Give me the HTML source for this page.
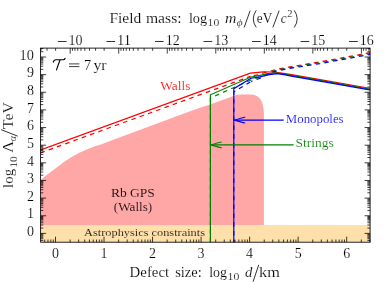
<!DOCTYPE html>
<html><head><meta charset="utf-8"><title>plot</title>
<style>
html,body{margin:0;padding:0;background:#fff;}
body{width:390px;height:282px;overflow:hidden;font-family:"Liberation Serif",serif;}
svg{display:block;}
text{font-family:"Liberation Serif",serif;}
</style></head><body>
<svg width="390" height="282" viewBox="0 0 390 282" style="will-change:transform">
<rect x="0" y="0" width="390" height="282" fill="#ffffff"/>
<defs><clipPath id="clip"><rect x="40.6" y="48.1" width="329.5" height="194.1"/></clipPath></defs>
<g clip-path="url(#clip)">
<path d="M40.6,242.2 L40.6,179.6 L41,179.6 L48,174 L56,167.9 L63.9,162 L71.9,156.8 L79.9,152.4 L87.9,149.1 L95.8,146.1 L100,144.7 L110,140.9 L190,111.3 L215,102.8 L226,98.7 C232,96.4 236,94.4 242,94.4 L250.5,94.4 C259.3,94.4 263.9,101 263.9,114 L263.9,242.2 Z" fill="#ffa6a6"/>
<rect x="40.6" y="225.0" width="329.5" height="17.20" fill="#ffdfaa"/>
<path d="M40,150.15 L250.3,73.1 L263.5,71.9 L272,72.0 L280,72.9 L290,74.4 L320,79.6 L371,88.5" fill="none" stroke="#ff0000" stroke-width="1.2" stroke-linejoin="miter"/>
<path d="M40,153.05 L250.5,76.4" fill="none" stroke="#ff0000" stroke-width="1.2" stroke-linejoin="miter" stroke-dasharray="4.5 4.3" stroke-dashoffset="8.34"/>
<path d="M371,52.5 L320,61.9 L291.3,66.6 L283.3,68.1 L274,70.0 L257.5,74.8 L250.5,76.4" fill="none" stroke="#ff0000" stroke-width="1.2" stroke-linejoin="miter" stroke-dasharray="4.5 4.3" stroke-dashoffset="8.0"/>
<path d="M210.4,243.6 L210.4,94.8 L251,77.0 L260,75.4 L268,73.6 L276,72.9 L283,73.8 L290,75.2 L320,80.4 L371,89.3" fill="none" stroke="#007f00" stroke-width="1.2" stroke-linejoin="miter"/>
<path d="M371,53.4 L320,62.7 L291.3,67.3 L283.3,68.8 L274,70.8 L266,74.2 L260,77.0 L251,80.0 L210.4,98.0 L210.4,243.6" fill="none" stroke="#007f00" stroke-width="1.2" stroke-linejoin="miter" stroke-dasharray="4.5 4.3" stroke-dashoffset="9.0"/>
<path d="M233.8,243.6 L233.8,88.7 L251,78.2 L260,76.8 L268,74.8 L277,73.7 L284,74.6 L290,75.9 L320,81.2 L371,90.2" fill="none" stroke="#0000ff" stroke-width="1.2" stroke-linejoin="miter"/>
<path d="M371,54.3 L320,63.6 L291.3,68.1 L283.3,69.6 L274,71.6 L266,75.2 L260,78.3 L251,81.5" fill="none" stroke="#0000ff" stroke-width="1.2" stroke-linejoin="miter" stroke-dasharray="4.5 4.3" stroke-dashoffset="10.0"/>
<path d="M251,81.5 L233.8,91.9 L233.8,243.6" fill="none" stroke="#0000ff" stroke-width="1.2" stroke-linejoin="miter" stroke-dasharray="4.5 4.3" stroke-dashoffset="7.98"/>
</g>
<path d="M293.6,144.9 L211.5,144.9" stroke="#007f00" stroke-width="1.15" fill="none"/>
<path d="M221.29999999999998,142.0 C218.2,142.6 214.2,143.9 211.2,144.9 C214.2,145.9 218.2,147.20000000000002 221.29999999999998,147.8" stroke="#007f00" stroke-width="1.15" fill="none" stroke-linecap="round" stroke-linejoin="round"/>
<path d="M283.7,120.1 L235.0,120.1" stroke="#0000ff" stroke-width="1.15" fill="none"/>
<path d="M244.79999999999998,117.19999999999999 C241.7,117.8 237.7,119.1 234.7,120.1 C237.7,121.1 241.7,122.39999999999999 244.79999999999998,123.0" stroke="#0000ff" stroke-width="1.15" fill="none" stroke-linecap="round" stroke-linejoin="round"/>
<rect x="40.6" y="48.1" width="329.5" height="194.1" fill="none" stroke="#000" stroke-width="0.85"/>
<path d="M44.73,242.2 V239.50 M47.98,242.2 V239.50 M50.80,242.2 V239.50 M53.28,242.2 V239.50 M55.50,242.2 V236.70 M70.11,242.2 V239.50 M78.65,242.2 V239.50 M84.72,242.2 V239.50 M89.42,242.2 V239.50 M93.26,242.2 V239.50 M96.51,242.2 V239.50 M99.33,242.2 V239.50 M101.81,242.2 V239.50 M104.03,242.2 V236.70 M118.64,242.2 V239.50 M127.18,242.2 V239.50 M133.25,242.2 V239.50 M137.95,242.2 V239.50 M141.79,242.2 V239.50 M145.04,242.2 V239.50 M147.86,242.2 V239.50 M150.34,242.2 V239.50 M152.56,242.2 V236.70 M167.17,242.2 V239.50 M175.71,242.2 V239.50 M181.78,242.2 V239.50 M186.48,242.2 V239.50 M190.32,242.2 V239.50 M193.57,242.2 V239.50 M196.39,242.2 V239.50 M198.87,242.2 V239.50 M201.09,242.2 V236.70 M215.70,242.2 V239.50 M224.24,242.2 V239.50 M230.31,242.2 V239.50 M235.01,242.2 V239.50 M238.85,242.2 V239.50 M242.10,242.2 V239.50 M244.92,242.2 V239.50 M247.40,242.2 V239.50 M249.62,242.2 V236.70 M264.23,242.2 V239.50 M272.77,242.2 V239.50 M278.84,242.2 V239.50 M283.54,242.2 V239.50 M287.38,242.2 V239.50 M290.63,242.2 V239.50 M293.45,242.2 V239.50 M295.93,242.2 V239.50 M298.15,242.2 V236.70 M312.76,242.2 V239.50 M321.30,242.2 V239.50 M327.37,242.2 V239.50 M332.07,242.2 V239.50 M335.91,242.2 V239.50 M339.16,242.2 V239.50 M341.98,242.2 V239.50 M344.46,242.2 V239.50 M346.68,242.2 V236.70 M361.29,242.2 V239.50 M369.83,242.2 V239.50 M368.90,48.1 V50.80 M366.09,48.1 V50.80 M363.61,48.1 V50.80 M361.38,48.1 V53.60 M346.78,48.1 V50.80 M338.23,48.1 V50.80 M332.17,48.1 V50.80 M327.46,48.1 V50.80 M323.62,48.1 V50.80 M320.37,48.1 V50.80 M317.56,48.1 V50.80 M315.08,48.1 V50.80 M312.85,48.1 V53.60 M298.25,48.1 V50.80 M289.70,48.1 V50.80 M283.64,48.1 V50.80 M278.93,48.1 V50.80 M275.09,48.1 V50.80 M271.84,48.1 V50.80 M269.03,48.1 V50.80 M266.55,48.1 V50.80 M264.32,48.1 V53.60 M249.72,48.1 V50.80 M241.17,48.1 V50.80 M235.11,48.1 V50.80 M230.40,48.1 V50.80 M226.56,48.1 V50.80 M223.31,48.1 V50.80 M220.50,48.1 V50.80 M218.02,48.1 V50.80 M215.79,48.1 V53.60 M201.19,48.1 V50.80 M192.64,48.1 V50.80 M186.58,48.1 V50.80 M181.87,48.1 V50.80 M178.03,48.1 V50.80 M174.78,48.1 V50.80 M171.97,48.1 V50.80 M169.49,48.1 V50.80 M167.26,48.1 V53.60 M152.66,48.1 V50.80 M144.11,48.1 V50.80 M138.05,48.1 V50.80 M133.34,48.1 V50.80 M129.50,48.1 V50.80 M126.25,48.1 V50.80 M123.44,48.1 V50.80 M120.96,48.1 V50.80 M118.73,48.1 V53.60 M104.13,48.1 V50.80 M95.58,48.1 V50.80 M89.52,48.1 V50.80 M84.81,48.1 V50.80 M80.97,48.1 V50.80 M77.72,48.1 V50.80 M74.91,48.1 V50.80 M72.43,48.1 V50.80 M70.20,48.1 V53.60 M55.60,48.1 V50.80 M47.05,48.1 V50.80 M40.99,48.1 V50.80 M40.6,240.42 H43.30 M370.1,240.42 H367.40 M40.6,238.71 H43.30 M370.1,238.71 H367.40 M40.6,237.31 H43.30 M370.1,237.31 H367.40 M40.6,236.13 H43.30 M370.1,236.13 H367.40 M40.6,235.11 H43.30 M370.1,235.11 H367.40 M40.6,234.21 H43.30 M370.1,234.21 H367.40 M40.6,233.40 H46.10 M370.1,233.40 H364.60 M40.6,228.09 H43.30 M370.1,228.09 H367.40 M40.6,224.98 H43.30 M370.1,224.98 H367.40 M40.6,222.78 H43.30 M370.1,222.78 H367.40 M40.6,221.07 H43.30 M370.1,221.07 H367.40 M40.6,219.67 H43.30 M370.1,219.67 H367.40 M40.6,218.49 H43.30 M370.1,218.49 H367.40 M40.6,217.47 H43.30 M370.1,217.47 H367.40 M40.6,216.57 H43.30 M370.1,216.57 H367.40 M40.6,215.76 H46.10 M370.1,215.76 H364.60 M40.6,210.45 H43.30 M370.1,210.45 H367.40 M40.6,207.34 H43.30 M370.1,207.34 H367.40 M40.6,205.14 H43.30 M370.1,205.14 H367.40 M40.6,203.43 H43.30 M370.1,203.43 H367.40 M40.6,202.03 H43.30 M370.1,202.03 H367.40 M40.6,200.85 H43.30 M370.1,200.85 H367.40 M40.6,199.83 H43.30 M370.1,199.83 H367.40 M40.6,198.93 H43.30 M370.1,198.93 H367.40 M40.6,198.12 H46.10 M370.1,198.12 H364.60 M40.6,192.81 H43.30 M370.1,192.81 H367.40 M40.6,189.70 H43.30 M370.1,189.70 H367.40 M40.6,187.50 H43.30 M370.1,187.50 H367.40 M40.6,185.79 H43.30 M370.1,185.79 H367.40 M40.6,184.39 H43.30 M370.1,184.39 H367.40 M40.6,183.21 H43.30 M370.1,183.21 H367.40 M40.6,182.19 H43.30 M370.1,182.19 H367.40 M40.6,181.29 H43.30 M370.1,181.29 H367.40 M40.6,180.48 H46.10 M370.1,180.48 H364.60 M40.6,175.17 H43.30 M370.1,175.17 H367.40 M40.6,172.06 H43.30 M370.1,172.06 H367.40 M40.6,169.86 H43.30 M370.1,169.86 H367.40 M40.6,168.15 H43.30 M370.1,168.15 H367.40 M40.6,166.75 H43.30 M370.1,166.75 H367.40 M40.6,165.57 H43.30 M370.1,165.57 H367.40 M40.6,164.55 H43.30 M370.1,164.55 H367.40 M40.6,163.65 H43.30 M370.1,163.65 H367.40 M40.6,162.84 H46.10 M370.1,162.84 H364.60 M40.6,157.53 H43.30 M370.1,157.53 H367.40 M40.6,154.42 H43.30 M370.1,154.42 H367.40 M40.6,152.22 H43.30 M370.1,152.22 H367.40 M40.6,150.51 H43.30 M370.1,150.51 H367.40 M40.6,149.11 H43.30 M370.1,149.11 H367.40 M40.6,147.93 H43.30 M370.1,147.93 H367.40 M40.6,146.91 H43.30 M370.1,146.91 H367.40 M40.6,146.01 H43.30 M370.1,146.01 H367.40 M40.6,145.20 H46.10 M370.1,145.20 H364.60 M40.6,139.89 H43.30 M370.1,139.89 H367.40 M40.6,136.78 H43.30 M370.1,136.78 H367.40 M40.6,134.58 H43.30 M370.1,134.58 H367.40 M40.6,132.87 H43.30 M370.1,132.87 H367.40 M40.6,131.47 H43.30 M370.1,131.47 H367.40 M40.6,130.29 H43.30 M370.1,130.29 H367.40 M40.6,129.27 H43.30 M370.1,129.27 H367.40 M40.6,128.37 H43.30 M370.1,128.37 H367.40 M40.6,127.56 H46.10 M370.1,127.56 H364.60 M40.6,122.25 H43.30 M370.1,122.25 H367.40 M40.6,119.14 H43.30 M370.1,119.14 H367.40 M40.6,116.94 H43.30 M370.1,116.94 H367.40 M40.6,115.23 H43.30 M370.1,115.23 H367.40 M40.6,113.83 H43.30 M370.1,113.83 H367.40 M40.6,112.65 H43.30 M370.1,112.65 H367.40 M40.6,111.63 H43.30 M370.1,111.63 H367.40 M40.6,110.73 H43.30 M370.1,110.73 H367.40 M40.6,109.92 H46.10 M370.1,109.92 H364.60 M40.6,104.61 H43.30 M370.1,104.61 H367.40 M40.6,101.50 H43.30 M370.1,101.50 H367.40 M40.6,99.30 H43.30 M370.1,99.30 H367.40 M40.6,97.59 H43.30 M370.1,97.59 H367.40 M40.6,96.19 H43.30 M370.1,96.19 H367.40 M40.6,95.01 H43.30 M370.1,95.01 H367.40 M40.6,93.99 H43.30 M370.1,93.99 H367.40 M40.6,93.09 H43.30 M370.1,93.09 H367.40 M40.6,92.28 H46.10 M370.1,92.28 H364.60 M40.6,86.97 H43.30 M370.1,86.97 H367.40 M40.6,83.86 H43.30 M370.1,83.86 H367.40 M40.6,81.66 H43.30 M370.1,81.66 H367.40 M40.6,79.95 H43.30 M370.1,79.95 H367.40 M40.6,78.55 H43.30 M370.1,78.55 H367.40 M40.6,77.37 H43.30 M370.1,77.37 H367.40 M40.6,76.35 H43.30 M370.1,76.35 H367.40 M40.6,75.45 H43.30 M370.1,75.45 H367.40 M40.6,74.64 H46.10 M370.1,74.64 H364.60 M40.6,69.33 H43.30 M370.1,69.33 H367.40 M40.6,66.22 H43.30 M370.1,66.22 H367.40 M40.6,64.02 H43.30 M370.1,64.02 H367.40 M40.6,62.31 H43.30 M370.1,62.31 H367.40 M40.6,60.91 H43.30 M370.1,60.91 H367.40 M40.6,59.73 H43.30 M370.1,59.73 H367.40 M40.6,58.71 H43.30 M370.1,58.71 H367.40 M40.6,57.81 H43.30 M370.1,57.81 H367.40 M40.6,57.00 H46.10 M370.1,57.00 H364.60 M40.6,51.69 H43.30 M370.1,51.69 H367.40 M40.6,48.58 H43.30 M370.1,48.58 H367.40" stroke="#000" stroke-width="0.75" fill="none"/>
<text x="26.900000000000002" y="236.10" font-size="13.8" fill="#000" textLength="7.0" lengthAdjust="spacingAndGlyphs" stroke="#fff" stroke-width="0.16">0</text>
<text x="26.900000000000002" y="218.46" font-size="13.8" fill="#000" textLength="7.0" lengthAdjust="spacingAndGlyphs" stroke="#fff" stroke-width="0.16">1</text>
<text x="26.900000000000002" y="200.82" font-size="13.8" fill="#000" textLength="7.0" lengthAdjust="spacingAndGlyphs" stroke="#fff" stroke-width="0.16">2</text>
<text x="26.900000000000002" y="183.18" font-size="13.8" fill="#000" textLength="7.0" lengthAdjust="spacingAndGlyphs" stroke="#fff" stroke-width="0.16">3</text>
<text x="26.900000000000002" y="165.54" font-size="13.8" fill="#000" textLength="7.0" lengthAdjust="spacingAndGlyphs" stroke="#fff" stroke-width="0.16">4</text>
<text x="26.900000000000002" y="147.90" font-size="13.8" fill="#000" textLength="7.0" lengthAdjust="spacingAndGlyphs" stroke="#fff" stroke-width="0.16">5</text>
<text x="26.900000000000002" y="130.26" font-size="13.8" fill="#000" textLength="7.0" lengthAdjust="spacingAndGlyphs" stroke="#fff" stroke-width="0.16">6</text>
<text x="26.900000000000002" y="112.62" font-size="13.8" fill="#000" textLength="7.0" lengthAdjust="spacingAndGlyphs" stroke="#fff" stroke-width="0.16">7</text>
<text x="26.900000000000002" y="94.98" font-size="13.8" fill="#000" textLength="7.0" lengthAdjust="spacingAndGlyphs" stroke="#fff" stroke-width="0.16">8</text>
<text x="26.900000000000002" y="77.34" font-size="13.8" fill="#000" textLength="7.0" lengthAdjust="spacingAndGlyphs" stroke="#fff" stroke-width="0.16">9</text>
<text x="19.6" y="59.70" font-size="13.8" fill="#000" textLength="14.299999999999999" lengthAdjust="spacingAndGlyphs" stroke="#fff" stroke-width="0.16">10</text>
<text x="52.00" y="257.6" font-size="13.8" fill="#000" textLength="7.0" lengthAdjust="spacingAndGlyphs" stroke="#fff" stroke-width="0.16">0</text>
<text x="100.53" y="257.6" font-size="13.8" fill="#000" textLength="7.0" lengthAdjust="spacingAndGlyphs" stroke="#fff" stroke-width="0.16">1</text>
<text x="149.06" y="257.6" font-size="13.8" fill="#000" textLength="7.0" lengthAdjust="spacingAndGlyphs" stroke="#fff" stroke-width="0.16">2</text>
<text x="197.59" y="257.6" font-size="13.8" fill="#000" textLength="7.0" lengthAdjust="spacingAndGlyphs" stroke="#fff" stroke-width="0.16">3</text>
<text x="246.12" y="257.6" font-size="13.8" fill="#000" textLength="7.0" lengthAdjust="spacingAndGlyphs" stroke="#fff" stroke-width="0.16">4</text>
<text x="294.65" y="257.6" font-size="13.8" fill="#000" textLength="7.0" lengthAdjust="spacingAndGlyphs" stroke="#fff" stroke-width="0.16">5</text>
<text x="343.18" y="257.6" font-size="13.8" fill="#000" textLength="7.0" lengthAdjust="spacingAndGlyphs" stroke="#fff" stroke-width="0.16">6</text>
<path d="M57.90,41.5 H66.60" stroke="#000" stroke-width="0.8"/>
<text x="68.60" y="45.2" font-size="13.8" fill="#000" textLength="14.0" lengthAdjust="spacingAndGlyphs" stroke="#fff" stroke-width="0.16">10</text>
<path d="M106.43,41.5 H115.13" stroke="#000" stroke-width="0.8"/>
<text x="117.13" y="45.2" font-size="13.8" fill="#000" textLength="14.0" lengthAdjust="spacingAndGlyphs" stroke="#fff" stroke-width="0.16">11</text>
<path d="M154.96,41.5 H163.66" stroke="#000" stroke-width="0.8"/>
<text x="165.66" y="45.2" font-size="13.8" fill="#000" textLength="14.0" lengthAdjust="spacingAndGlyphs" stroke="#fff" stroke-width="0.16">12</text>
<path d="M203.49,41.5 H212.19" stroke="#000" stroke-width="0.8"/>
<text x="214.19" y="45.2" font-size="13.8" fill="#000" textLength="14.0" lengthAdjust="spacingAndGlyphs" stroke="#fff" stroke-width="0.16">13</text>
<path d="M252.02,41.5 H260.72" stroke="#000" stroke-width="0.8"/>
<text x="262.72" y="45.2" font-size="13.8" fill="#000" textLength="14.0" lengthAdjust="spacingAndGlyphs" stroke="#fff" stroke-width="0.16">14</text>
<path d="M300.55,41.5 H309.25" stroke="#000" stroke-width="0.8"/>
<text x="311.25" y="45.2" font-size="13.8" fill="#000" textLength="14.0" lengthAdjust="spacingAndGlyphs" stroke="#fff" stroke-width="0.16">15</text>
<path d="M349.08,41.5 H357.78" stroke="#000" stroke-width="0.8"/>
<text x="359.78" y="45.2" font-size="13.8" fill="#000" textLength="14.0" lengthAdjust="spacingAndGlyphs" stroke="#fff" stroke-width="0.16">16</text>
<text x="109.4" y="22.6" font-size="14.6" fill="#000" textLength="31.9" lengthAdjust="spacingAndGlyphs" stroke="#fff" stroke-width="0.16">Field</text>
<text x="145.9" y="22.6" font-size="14.6" fill="#000" textLength="35.7" lengthAdjust="spacingAndGlyphs" stroke="#fff" stroke-width="0.16">mass:</text>
<text x="188.9" y="22.6" font-size="14.6" fill="#000" textLength="18.3" lengthAdjust="spacingAndGlyphs" stroke="#fff" stroke-width="0.16">log</text>
<text x="207.6" y="26.0" font-size="10.2" fill="#000" textLength="11.6" lengthAdjust="spacingAndGlyphs" stroke="#fff" stroke-width="0.16">10</text>
<text x="225.0" y="22.6" font-size="14.6" fill="#000" textLength="11.4" lengthAdjust="spacingAndGlyphs" font-style="italic" stroke="#fff" stroke-width="0.16">m</text>
<text x="236.7" y="25.6" font-size="10.4" fill="#000" textLength="5.8" lengthAdjust="spacingAndGlyphs" font-style="italic" stroke="#fff" stroke-width="0.16">ϕ</text>
<path d="M244.3,27.1 L250.0,11.0 M273.0,27.1 L279.0,11.0" stroke="#000" stroke-width="0.8" fill="none" stroke-linecap="round"/>
<path d="M256.0,10.7 Q250.4,18.9 256.0,27.1 M294.5,10.7 Q300.1,18.9 294.5,27.1" stroke="#000" stroke-width="0.8" fill="none" stroke-linecap="round"/>
<text x="256.8" y="22.6" font-size="14.6" fill="#000" textLength="15.5" lengthAdjust="spacingAndGlyphs" stroke="#fff" stroke-width="0.16">eV</text>
<text x="280.8" y="22.6" font-size="14.6" fill="#000" textLength="5.8" lengthAdjust="spacingAndGlyphs" font-style="italic" stroke="#fff" stroke-width="0.16">c</text>
<text x="287.2" y="17.4" font-size="10.2" fill="#000" textLength="5.2" lengthAdjust="spacingAndGlyphs" stroke="#fff" stroke-width="0.16">2</text>
<text x="129.6" y="277.0" font-size="14.6" fill="#000" textLength="39.5" lengthAdjust="spacingAndGlyphs" stroke="#fff" stroke-width="0.16">Defect</text>
<text x="175.2" y="277.0" font-size="14.6" fill="#000" textLength="26.6" lengthAdjust="spacingAndGlyphs" stroke="#fff" stroke-width="0.16">size:</text>
<text x="209.2" y="277.0" font-size="14.6" fill="#000" textLength="17.8" lengthAdjust="spacingAndGlyphs" stroke="#fff" stroke-width="0.16">log</text>
<text x="227.6" y="280.3" font-size="10.2" fill="#000" textLength="11.8" lengthAdjust="spacingAndGlyphs" stroke="#fff" stroke-width="0.16">10</text>
<text x="244.9" y="277.0" font-size="14.6" fill="#000" textLength="7.4" lengthAdjust="spacingAndGlyphs" font-style="italic" stroke="#fff" stroke-width="0.16">d</text>
<path d="M253.2,281.3 L258.6,265.2" stroke="#000" stroke-width="0.8" fill="none" stroke-linecap="round"/>
<text x="259.0" y="277.0" font-size="14.6" fill="#000" textLength="20.8" lengthAdjust="spacingAndGlyphs" stroke="#fff" stroke-width="0.16">km</text>
<g transform="translate(12.7,0) rotate(-90)">
<text x="-187.9" y="0" font-size="14.6" fill="#000" textLength="19.0" lengthAdjust="spacingAndGlyphs" stroke="#fff" stroke-width="0.16">log</text>
<text x="-167.6" y="3.9" font-size="10.2" fill="#000" textLength="11.2" lengthAdjust="spacingAndGlyphs" stroke="#fff" stroke-width="0.16">10</text>
<text x="-152.8" y="0" font-size="14.6" fill="#000" textLength="11.8" lengthAdjust="spacingAndGlyphs" stroke="#fff" stroke-width="0.16">Λ</text>
<text x="-141.2" y="3.1" font-size="10.4" fill="#000" textLength="5.4" lengthAdjust="spacingAndGlyphs" font-style="italic" stroke="#fff" stroke-width="0.16">α</text>
<path d="M-136.0,4.6 L-129.8,-11.2" stroke="#000" stroke-width="0.8" fill="none" stroke-linecap="round"/>
<text x="-128.9" y="0" font-size="14.6" fill="#000" textLength="26.8" lengthAdjust="spacingAndGlyphs" stroke="#fff" stroke-width="0.16">TeV</text>
</g>
<path transform="translate(0.2,0.3)" d="M53.1,61.9 C53.4,60.4 54.2,59.4 55.6,59.4 L63.2,59.4 C64.1,59.4 64.6,58.7 64.9,57.9 M59.9,59.4 C58.6,63 57.6,66 56.3,69.6" stroke="#000" stroke-width="1.1" fill="none" stroke-linecap="round"/>
<path d="M69.0,63.9 H79.4 M69.0,66.6 H79.4" stroke="#000" stroke-width="0.75" fill="none"/>
<text x="84.0" y="69.8" font-size="14.2" fill="#000" stroke="#fff" stroke-width="0.16">7</text>
<text x="93.4" y="69.8" font-size="14.6" fill="#000" textLength="13.2" lengthAdjust="spacingAndGlyphs" stroke="#fff" stroke-width="0.16">yr</text>
<text x="160.3" y="90.0" font-size="12.6" fill="#ff0000" textLength="30.2" lengthAdjust="spacingAndGlyphs" stroke="#fff" stroke-width="0.16">Walls</text>
<text x="285.8" y="122.6" font-size="12.6" fill="#0000ff" textLength="57.8" lengthAdjust="spacingAndGlyphs" stroke="#fff" stroke-width="0.16">Monopoles</text>
<text x="295.4" y="147.0" font-size="12.6" fill="#007f00" textLength="38.4" lengthAdjust="spacingAndGlyphs" stroke="#fff" stroke-width="0.16">Strings</text>
<text x="110.9" y="196.7" font-size="12.6" fill="#000" textLength="44.0" lengthAdjust="spacingAndGlyphs" stroke="#ffa6a6" stroke-width="0.16">Rb GPS</text>
<text x="113.8" y="210.9" font-size="12.6" fill="#000" textLength="38.4" lengthAdjust="spacingAndGlyphs" stroke="#ffa6a6" stroke-width="0.16">(Walls)</text>
<text x="84.1" y="236.0" font-size="11.2" fill="#000" textLength="120.9" lengthAdjust="spacingAndGlyphs" stroke="#ffdfaa" stroke-width="0.16">Astrophysics constraints</text>
</svg>
</body></html>
